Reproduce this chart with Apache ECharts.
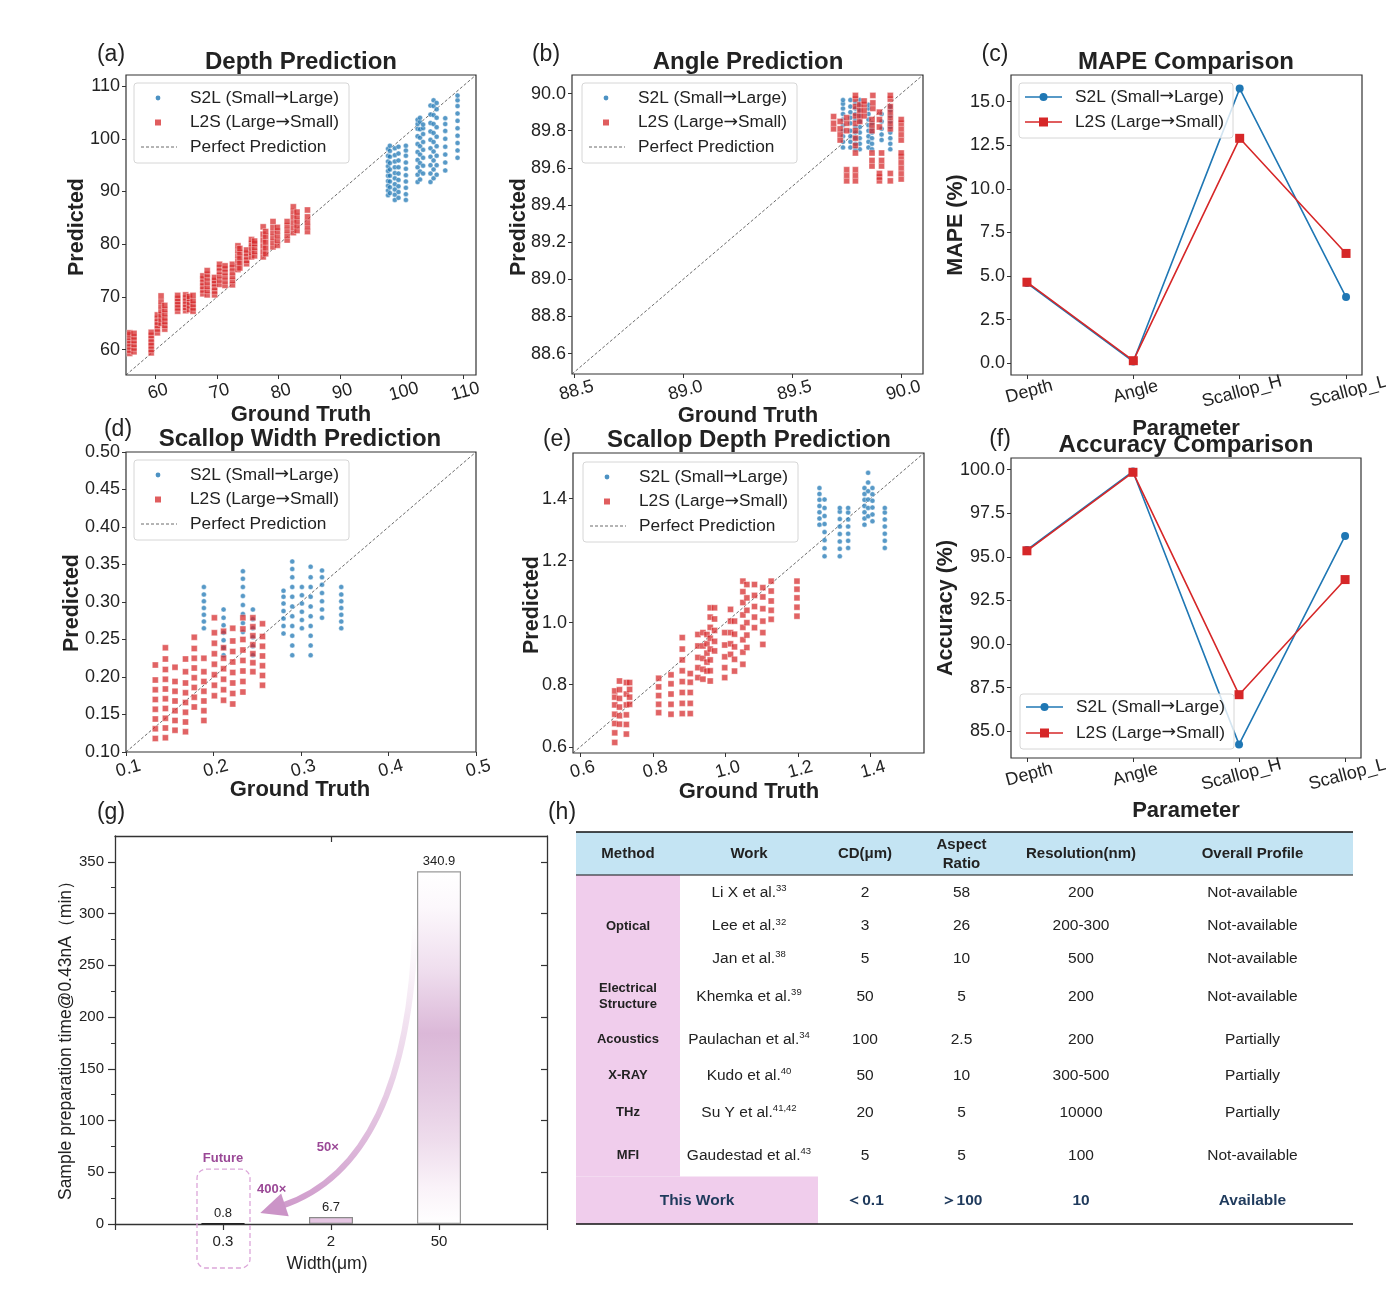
<html>
<head>
<script src="https://cdn.jsdelivr.net/npm/echarts@6.0.0/dist/echarts.min.js"></script>
<style>
  body { margin: 0; background: #fff; }
  #chart { width: 1386px; height: 1290px; }
</style>
</head>
<body>
<div id="chart"></div>
<script>
const FONT = '"Liberation Sans", Arial, sans-serif';
const BLUE = '#1f77b4', RED = '#d62728', INK = '#222';

// ---- data: each stripe is [ground truth, [predicted values...]] ----
const depthS2L = [
  [97.8, [89.3, 90.2, 91.1, 92.0, 93.0, 93.9, 94.8, 95.7, 96.8, 98.1]],
  [98.1, [89.7, 90.8, 91.9, 93.0, 94.2, 95.4, 96.6, 97.7, 98.7]],
  [98.9, [88.4, 89.4, 90.4, 91.4, 92.5, 93.5, 94.6, 95.7, 96.9, 98.2]],
  [99.5, [88.8, 89.9, 91.0, 92.2, 93.4, 94.6, 95.9, 97.2, 98.5]],
  [100.7, [88.4, 89.5, 90.7, 91.9, 93.1, 94.3, 95.5, 96.8, 97.8, 98.7]],
  [102.6, [91.8, 93.2, 94.6, 96.0, 97.5, 99.0, 100.5, 101.9, 102.8, 103.6]],
  [103.0, [92.3, 93.8, 95.4, 97.0, 98.6, 100.2, 101.8, 103.2, 104.0]],
  [103.5, [93.4, 94.9, 96.4, 97.9, 99.4, 100.9, 102.0, 102.7]],
  [104.7, [91.8, 93.4, 95.0, 96.6, 98.2, 99.8, 101.4, 103.0, 104.6, 106.3]],
  [105.2, [92.5, 94.2, 95.9, 97.6, 99.4, 101.1, 102.8, 104.5, 106.2, 107.3]],
  [105.7, [93.2, 95.0, 96.8, 98.6, 100.4, 102.2, 104.0, 105.6, 106.8]],
  [107.1, [94.0, 95.5, 97.0, 98.5, 100.0, 101.5, 102.8, 103.9]],
  [109.1, [96.4, 97.8, 99.2, 100.6, 102.0, 103.4, 104.8, 106.2, 107.3, 108.2]]
];
const depthL2S = [
  [55.8, [59.3, 59.9, 60.5, 61.1, 61.7, 62.3, 62.8, 63.2]],
  [56.5, [59.6, 60.3, 61.0, 61.7, 62.4, 63.1]],
  [59.3, [59.4, 60.0, 60.7, 61.3, 62.0, 62.7, 63.3]],
  [60.3, [63.2, 63.9, 64.6, 65.2, 65.9, 66.6]],
  [60.9, [65.0, 65.8, 66.6, 67.4, 68.3, 69.2, 70.2]],
  [61.5, [63.9, 64.6, 65.3, 66.0, 66.8, 67.6, 68.4]],
  [63.6, [67.3, 67.9, 68.5, 69.1, 69.7, 70.3]],
  [64.9, [67.4, 68.0, 68.6, 69.2, 69.8, 70.4]],
  [65.5, [67.6, 68.3, 69.0, 69.7, 70.1]],
  [66.1, [67.3, 67.9, 68.6, 69.3, 70.3]],
  [67.7, [70.6, 71.3, 72.0, 72.7, 73.4, 74.0]],
  [68.4, [70.4, 71.2, 72.0, 72.8, 73.6, 74.3, 75.0]],
  [69.6, [70.4, 71.1, 71.8, 72.5, 73.1, 73.7]],
  [70.4, [72.4, 73.2, 74.0, 74.8, 75.5, 76.2]],
  [71.3, [72.2, 73.0, 73.8, 74.6, 75.3, 75.9]],
  [72.5, [72.3, 73.1, 73.9, 74.7, 75.5, 76.2]],
  [73.4, [75.2, 76.1, 77.0, 77.9, 78.8, 79.7]],
  [73.7, [75.5, 76.5, 77.5, 78.4, 79.2]],
  [74.8, [76.3, 76.9, 77.6, 78.3, 78.9]],
  [75.6, [77.6, 78.4, 79.3, 80.1, 80.9]],
  [76.1, [77.8, 78.6, 79.4, 80.1, 80.6]],
  [77.5, [77.6, 78.6, 79.7, 80.8, 81.9, 83.3]],
  [77.9, [78.2, 79.3, 80.4, 81.5, 82.4]],
  [79.1, [79.5, 80.4, 81.3, 82.2, 83.2, 84.3]],
  [79.8, [79.8, 80.7, 81.6, 82.5, 83.2]],
  [81.4, [80.8, 81.7, 82.6, 83.5, 84.3]],
  [82.4, [82.2, 83.2, 84.2, 85.2, 86.2, 87.1]],
  [83.0, [82.6, 83.5, 84.4, 85.3, 86.1]],
  [84.7, [82.4, 83.3, 84.2, 85.2, 86.5]]
];
const angleS2L = [
  [89.733, [89.71, 89.74, 89.77, 89.80, 89.83, 89.86, 89.89, 89.92, 89.945, 89.965]],
  [89.767, [89.71, 89.74, 89.77, 89.80, 89.84, 89.87, 89.90, 89.93, 89.965]],
  [89.79, [89.70, 89.73, 89.76, 89.79, 89.82, 89.86, 89.89, 89.92, 89.95]],
  [89.81, [89.70, 89.73, 89.76, 89.79, 89.82, 89.85, 89.88, 89.91, 89.94, 89.965]],
  [89.85, [89.71, 89.74, 89.77, 89.80, 89.83, 89.86, 89.89, 89.92, 89.94]],
  [89.866, [89.70, 89.73, 89.76, 89.79, 89.81, 89.84]],
  [89.91, [89.75, 89.78, 89.81, 89.85, 89.89]],
  [89.95, [89.70, 89.73, 89.76, 89.79, 89.82, 89.85, 89.88, 89.91, 89.93]]
];
const angleL2S = [
  [89.69, [89.81, 89.84, 89.876]],
  [89.72, [89.75, 89.78, 89.81, 89.85]],
  [89.75, [89.53, 89.56, 89.59, 89.80, 89.84, 89.87]],
  [89.79, [89.53, 89.56, 89.59, 89.68, 89.72, 89.76, 89.80, 89.84, 89.88, 89.93, 89.97, 89.99]],
  [89.81, [89.85, 89.88, 89.91, 89.94]],
  [89.83, [89.88, 89.91, 89.94, 89.96]],
  [89.866, [89.61, 89.64, 89.68, 89.80, 89.83, 89.86]],
  [89.87, [89.92, 89.95, 89.99]],
  [89.90, [89.53, 89.55, 89.57, 89.82, 89.86, 89.90]],
  [89.91, [89.61, 89.64, 89.68]],
  [89.95, [89.53, 89.57, 89.81, 89.84, 89.87, 89.90, 89.93, 89.97, 89.99]],
  [90.0, [89.54, 89.57, 89.60, 89.63, 89.66, 89.68, 89.75, 89.78, 89.81, 89.84, 89.86]]
];
const widthS2L = [
  [0.189, [0.265, 0.274, 0.283, 0.292, 0.301, 0.310, 0.320]],
  [0.2115, [0.229, 0.239, 0.249, 0.259, 0.269, 0.279, 0.290]],
  [0.2336, [0.260, 0.272, 0.284, 0.296, 0.308, 0.320, 0.331, 0.341]],
  [0.245, [0.229, 0.241, 0.253, 0.265, 0.277, 0.290]],
  [0.28, [0.258, 0.268, 0.278, 0.288, 0.298, 0.307, 0.315]],
  [0.29, [0.229, 0.242, 0.255, 0.268, 0.281, 0.294, 0.307, 0.320, 0.333, 0.344, 0.354]],
  [0.301, [0.265, 0.276, 0.287, 0.298, 0.309, 0.320]],
  [0.311, [0.229, 0.242, 0.255, 0.268, 0.281, 0.294, 0.307, 0.320, 0.333, 0.347]],
  [0.324, [0.279, 0.290, 0.301, 0.312, 0.323, 0.333, 0.342]],
  [0.346, [0.265, 0.274, 0.283, 0.292, 0.301, 0.310, 0.320]]
];
const widthL2S = [
  [0.1335, [0.118, 0.131, 0.144, 0.157, 0.170, 0.183, 0.196, 0.216]],
  [0.145, [0.119, 0.132, 0.145, 0.158, 0.171, 0.184, 0.197, 0.210, 0.224, 0.239]],
  [0.156, [0.129, 0.142, 0.155, 0.168, 0.181, 0.194, 0.213]],
  [0.168, [0.127, 0.140, 0.153, 0.166, 0.179, 0.192, 0.207, 0.224]],
  [0.178, [0.160, 0.173, 0.186, 0.199, 0.212, 0.225, 0.238, 0.253]],
  [0.189, [0.142, 0.155, 0.168, 0.181, 0.194, 0.207, 0.225]],
  [0.201, [0.175, 0.189, 0.203, 0.217, 0.231, 0.245, 0.259, 0.279]],
  [0.2115, [0.169, 0.183, 0.197, 0.211, 0.225, 0.239, 0.261]],
  [0.222, [0.164, 0.178, 0.192, 0.206, 0.220, 0.234, 0.248, 0.265]],
  [0.2336, [0.180, 0.194, 0.208, 0.222, 0.236, 0.250, 0.264, 0.279]],
  [0.245, [0.207, 0.219, 0.231, 0.243, 0.255, 0.267, 0.279]],
  [0.256, [0.189, 0.202, 0.215, 0.228, 0.241, 0.254, 0.271]]
];
const sdepthS2L = [
  [1.259, [1.316, 1.336, 1.356, 1.376, 1.396, 1.415, 1.434]],
  [1.273, [1.214, 1.240, 1.266, 1.292, 1.318, 1.344, 1.370, 1.397]],
  [1.315, [1.214, 1.238, 1.262, 1.286, 1.310, 1.334, 1.358, 1.370]],
  [1.338, [1.241, 1.264, 1.287, 1.310, 1.333, 1.355, 1.370]],
  [1.383, [1.316, 1.336, 1.356, 1.376, 1.396, 1.415, 1.434]],
  [1.393, [1.343, 1.370, 1.397, 1.424, 1.452, 1.483]],
  [1.405, [1.327, 1.349, 1.371, 1.393, 1.414, 1.434]],
  [1.439, [1.241, 1.264, 1.287, 1.310, 1.333, 1.355, 1.370]]
];
const sdepthL2S = [
  [0.695, [0.614, 0.645, 0.675, 0.705, 0.735, 0.760, 0.780]],
  [0.708, [0.673, 0.700, 0.728, 0.756, 0.784, 0.812]],
  [0.727, [0.641, 0.672, 0.703, 0.735, 0.770, 0.807]],
  [0.736, [0.737, 0.760, 0.785, 0.807]],
  [0.816, [0.710, 0.737, 0.765, 0.793, 0.821]],
  [0.85, [0.705, 0.737, 0.770, 0.803, 0.832]],
  [0.881, [0.707, 0.740, 0.775, 0.810, 0.845, 0.880, 0.915, 0.952]],
  [0.903, [0.707, 0.740, 0.775, 0.808, 0.836]],
  [0.924, [0.823, 0.855, 0.888, 0.925, 0.962]],
  [0.938, [0.818, 0.850, 0.885, 0.925, 0.968]],
  [0.949, [0.844, 0.873, 0.902, 0.932, 0.962]],
  [0.958, [0.812, 0.845, 0.880, 0.915, 0.950, 0.985, 1.018, 1.048]],
  [0.97, [0.909, 0.940, 0.975, 1.012, 1.048]],
  [0.998, [0.823, 0.855, 0.890, 0.928, 0.968]],
  [1.014, [0.898, 0.932, 0.968, 1.005, 1.043]],
  [1.025, [0.844, 0.882, 0.922, 0.963, 1.005]],
  [1.048, [0.866, 0.905, 0.945, 0.985, 1.025, 1.065, 1.100, 1.134]],
  [1.059, [0.920, 0.960, 1.000, 1.040, 1.080, 1.123]],
  [1.08, [0.984, 1.018, 1.052, 1.088, 1.123]],
  [1.103, [0.930, 0.968, 1.005, 1.045, 1.083, 1.113]],
  [1.126, [1.011, 1.040, 1.070, 1.102, 1.134]],
  [1.197, [1.021, 1.050, 1.080, 1.108, 1.134]]
];

const paramNames = ['Depth', 'Angle', 'Scallop_H', 'Scallop_L'];
const mapeS2L = [4.6, 0.1, 15.75, 3.8];
const mapeL2S = [4.65, 0.15, 12.9, 6.3];
const accS2L = [95.4, 99.9, 84.25, 96.2];
const accL2S = [95.35, 99.85, 87.1, 93.7];

const widthCats = ['0.3', '2', '50'];
const prepTime = [0.8, 6.7, 340.9];

// table (h)
const tableHeader = ['Method', 'Work', 'CD(μm)', 'Aspect\nRatio', 'Resolution(nm)', 'Overall Profile'];
const works = ['Li X et al.', 'Lee et al.', 'Jan et al.', 'Khemka et al.', 'Paulachan et al.', 'Kudo et al.', 'Su Y et al.', 'Gaudestad et al.'];
const workRefs = ['33', '32', '38', '39', '34', '40', '41,42', '43'];
const cdValues = ['2', '3', '5', '50', '100', '50', '20', '5'];
const aspectValues = ['58', '26', '10', '5', '2.5', '10', '5', '5'];
const resolutionValues = ['200', '200-300', '500', '200', '200', '300-500', '10000', '100'];
const profileValues = ['Not-available', 'Not-available', 'Not-available', 'Not-available', 'Partially', 'Partially', 'Partially', 'Not-available'];
const methodGroups = ['Optical', 'Electrical\nStructure', 'Acoustics', 'X-RAY', 'THz', 'MFI'];
const thisWorkRow = ['This Work', '＜0.1', '＞100', '10', 'Available'];

// axis ranges (matplotlib equal limits)
const scatterRanges = [[55.2, 112.1], [88.49, 90.1], null, [0.1, 0.5], [0.58, 1.547]];
const scatterTicks = [
  [60, 70, 80, 90, 100, 110],
  [88.5, 89.0, 89.5, 90.0],
  null,
  [0.1, 0.2, 0.3, 0.4, 0.5],
  [0.6, 0.8, 1.0, 1.2, 1.4]
];
const scatterYTicks = [
  [60, 70, 80, 90, 100, 110],
  [88.6, 88.8, 89.0, 89.2, 89.4, 89.6, 89.8, 90.0],
  null,
  [0.10, 0.15, 0.20, 0.25, 0.30, 0.35, 0.40, 0.45, 0.50],
  [0.6, 0.8, 1.0, 1.2, 1.4]
];
const xDigits = [0, 1, null, 1, 1];
const yDigits = [0, 1, null, 2, 1];

const chart = echarts.init(document.getElementById('chart'));

const grids = [
  { left: 126, top: 75, width: 350, height: 300 },
  { left: 572, top: 75, width: 351, height: 299 },
  { left: 1011, top: 75, width: 351, height: 300 },
  { left: 126, top: 452, width: 350, height: 300 },
  { left: 573, top: 453, width: 351, height: 300 },
  { left: 1011, top: 458, width: 350, height: 300 },
  { left: 115, top: 836, width: 432, height: 388 }
].map((g, i) => Object.assign({
  show: i < 6, borderColor: '#333', borderWidth: 1.2, backgroundColor: 'transparent',
  containLabel: false, outerBoundsMode: 'none'
}, g));

const expand = stripes => stripes.flatMap(([x, ys]) => ys.map(y => [x, y]));

function valAxis(gi, min, max, ticks, fmt, rotate) {
  return {
    type: 'value', gridIndex: gi, min, max,
    splitLine: { show: false },
    axisLine: { show: false, onZero: false },
    axisTick: { show: true, customValues: ticks, length: 4, lineStyle: { color: '#333', width: 1 } },
    axisLabel: Object.assign({
      customValues: ticks, formatter: fmt, fontSize: 18, color: INK, fontFamily: FONT,
      margin: rotate ? 8 : 6
    }, rotate ? { rotate, align: 'center', verticalAlign: 'top' } : {})
  };
}

const xAxes = [], yAxes = [], series = [];
const scatterSets = [[depthS2L, depthL2S], [angleS2L, angleL2S], null, [widthS2L, widthL2S], [sdepthS2L, sdepthL2S]];

[0, 1, 3, 4].forEach(k => {
  const [lo, hi] = scatterRanges[k];
  xAxes[k] = valAxis(k, lo, hi, scatterTicks[k], v => v.toFixed(xDigits[k]), 15);
  yAxes[k] = valAxis(k, lo, hi, scatterYTicks[k], v => v.toFixed(yDigits[k]));
  const [s2l, l2s] = scatterSets[k];
  series.push({
    type: 'line', xAxisIndex: k, yAxisIndex: k, data: [[lo, lo], [hi, hi]], symbol: 'none',
    lineStyle: { color: '#444', width: 0.8, type: [3, 2] }, z: 1, silent: true
  });
  series.push({
    type: 'scatter', name: 'S2L (Small→Large)', xAxisIndex: k, yAxisIndex: k, data: expand(s2l),
    symbol: 'circle', symbolSize: 5,
    itemStyle: { color: BLUE, opacity: 0.75, borderColor: '#fff', borderWidth: 0.5 }, z: 2
  });
  series.push({
    type: 'scatter', name: 'L2S (Large→Small)', xAxisIndex: k, yAxisIndex: k, data: expand(l2s),
    symbol: 'rect', symbolSize: 6,
    itemStyle: { color: RED, opacity: 0.72, borderColor: '#fff', borderWidth: 0.5 }, z: 3
  });
});

// (c) MAPE and (f) accuracy
[[2, mapeS2L, mapeL2S, -0.67, 16.53, [0, 2.5, 5, 7.5, 10, 12.5, 15]],
 [5, accS2L, accL2S, 83.47, 100.67, [85, 87.5, 90, 92.5, 95, 97.5, 100]]].forEach(([k, s2l, l2s, lo, hi, ticks]) => {
  xAxes[k] = valAxis(k, -0.15, 3.15, [0, 1, 2, 3], v => paramNames[Math.round(v)], 15);
  yAxes[k] = valAxis(k, lo, hi, ticks, v => v.toFixed(1));
  series.push({
    type: 'line', name: 'S2L (Small→Large)', xAxisIndex: k, yAxisIndex: k,
    data: s2l.map((v, i) => [i, v]), symbol: 'circle', symbolSize: 8,
    lineStyle: { color: BLUE, width: 1.6 }, itemStyle: { color: BLUE }, z: 2
  });
  series.push({
    type: 'line', name: 'L2S (Large→Small)', xAxisIndex: k, yAxisIndex: k,
    data: l2s.map((v, i) => [i, v]), symbol: 'rect', symbolSize: 9,
    lineStyle: { color: RED, width: 1.6 }, itemStyle: { color: RED }, z: 3
  });
});

// (g) bar chart
const axisLn = { show: true, onZero: false, lineStyle: { color: '#333', width: 1.3 } };
xAxes[6] = {
  type: 'value', gridIndex: 6, min: -1, max: 3, position: 'bottom', splitLine: { show: false },
  axisLine: axisLn,
  axisTick: { customValues: [-1, 0, 1, 2, 3], length: 6, lineStyle: { color: '#333', width: 1.2 } },
  axisLabel: { customValues: [0, 1, 2], formatter: v => widthCats[Math.round(v)], fontSize: 15, color: INK, fontFamily: FONT, margin: 10 }
};
xAxes[7] = {
  type: 'value', gridIndex: 6, min: -1, max: 3, position: 'top', splitLine: { show: false },
  axisLine: axisLn,
  axisTick: { inside: true, customValues: [1], length: 6, lineStyle: { color: '#333', width: 1.2 } },
  axisLabel: { show: false }
};
const majorTicks = [0, 50, 100, 150, 200, 250, 300, 350];
yAxes[6] = {
  type: 'value', gridIndex: 6, min: 0, max: 375, position: 'left', splitLine: { show: false },
  axisLine: axisLn,
  axisTick: { customValues: majorTicks, length: 7, lineStyle: { color: '#333', width: 1.2 } },
  axisLabel: { customValues: majorTicks, fontSize: 15, color: INK, fontFamily: FONT, margin: 11 }
};
yAxes[7] = {
  type: 'value', gridIndex: 6, min: 0, max: 375, position: 'right', splitLine: { show: false },
  axisLine: axisLn,
  axisTick: { inside: true, customValues: majorTicks.slice(1), length: 6, lineStyle: { color: '#333', width: 1.2 } },
  axisLabel: { show: false }
};
yAxes[8] = {
  type: 'value', gridIndex: 6, min: 0, max: 375, position: 'left', splitLine: { show: false },
  axisLine: { show: false, onZero: false },
  axisTick: { customValues: [25, 75, 125, 175, 225, 275, 325], length: 4, lineStyle: { color: '#333', width: 1 } },
  axisLabel: { show: false }
};

const barStyles = [
  { color: '#333', borderColor: '#222', borderWidth: 1.2 },
  { color: '#e6c6e3', borderColor: '#8a8a8a', borderWidth: 1.2 },
  {
    color: new echarts.graphic.LinearGradient(0, 0, 0, 1, [
      { offset: 0, color: '#ffffff' }, { offset: 0.1, color: '#fcf8fc' },
      { offset: 0.28, color: '#efdeee' }, { offset: 0.46, color: '#dbb8d8' },
      { offset: 0.62, color: '#e4cae2' }, { offset: 0.76, color: '#eedcec' },
      { offset: 0.9, color: '#faf3f9' }, { offset: 1, color: '#ffffff' }
    ]),
    borderColor: '#9a9a9a', borderWidth: 1.2
  }
];
series.push({
  type: 'bar', xAxisIndex: 6, yAxisIndex: 6, barWidth: 44,
  data: prepTime.map((v, i) => ({ value: [i, v], itemStyle: barStyles[i] })),
  label: {
    show: true, position: 'top', distance: 3, fontSize: 13, color: INK, fontFamily: FONT,
    formatter: p => String(p.value[1])
  },
  z: 2
});

chart.setOption({
  animation: false,
  backgroundColor: '#fff',
  grid: grids,
  xAxis: xAxes,
  yAxis: yAxes,
  series
});

// ---------- text, legends, table, annotations ----------
const G = [];
function text(x, y, s, size, opts) {
  opts = opts || {};
  G.push({
    type: 'text', x, y, rotation: opts.rotation || 0, z: 100,
    style: {
      text: s, fontSize: size, fontFamily: FONT, fontWeight: opts.bold ? 'bold' : 'normal',
      fill: opts.color || INK, align: opts.align || 'center', verticalAlign: 'middle',
      lineHeight: opts.lineHeight, rich: opts.rich
    }
  });
}

[['Depth Prediction', 301, 62], ['Angle Prediction', 748, 62], ['MAPE Comparison', 1186, 62],
 ['Scallop Width Prediction', 300, 439], ['Scallop Depth Prediction', 749, 440], ['Accuracy Comparison', 1186, 445]]
  .forEach(([s, x, y]) => text(x, y, s, 24, { bold: true }));

[['(a)', 111, 55], ['(b)', 546, 55], ['(c)', 995, 55], ['(d)', 118, 430], ['(e)', 557, 440],
 ['(f)', 1000, 440], ['(g)', 111, 813], ['(h)', 562, 813]]
  .forEach(([s, x, y]) => text(x, y, s, 23));

const R90 = Math.PI / 2;
[['Predicted', 77, 227], ['Predicted', 519, 227], ['MAPE (%)', 956, 225],
 ['Predicted', 72, 603], ['Predicted', 532, 605], ['Accuracy (%)', 946, 608]]
  .forEach(([s, x, y]) => text(x, y, s, 21.5, { bold: true, rotation: R90 }));
[['Ground Truth', 301, 415], ['Ground Truth', 748, 416], ['Parameter', 1186, 429],
 ['Ground Truth', 300, 790], ['Ground Truth', 749, 792], ['Parameter', 1186, 811]]
  .forEach(([s, x, y]) => text(x, y, s, 22, { bold: true }));

// legend labels: arrow drawn in a font with a long arrow glyph
const LSZ = 17.3;
const legendRich = {
  t: { fontSize: LSZ, fontFamily: FONT, fill: INK },
  r: { fontSize: LSZ, fontFamily: '"DejaVu Sans"', fill: INK }
};
const LBL = ['{t|S2L (Small}{r|→}{t|Large)}', '{t|L2S (Large}{r|→}{t|Small)}', '{t|Perfect Prediction}'];
function legendFrame(x, y, w, h) {
  G.push({
    type: 'rect', shape: { x, y, width: w, height: h, r: 3 }, z: 90,
    style: { fill: 'rgba(255,255,255,0.8)', stroke: '#d6d6d6', lineWidth: 1 }
  });
}
function scatterLegend(x, y) {
  legendFrame(x, y, 215, 80);
  const rows = [15, 39.5, 64];
  G.push({ type: 'circle', shape: { cx: x + 24, cy: y + rows[0], r: 2.4 }, z: 95, style: { fill: BLUE, opacity: 0.8 } });
  G.push({ type: 'rect', shape: { x: x + 21, y: y + rows[1] - 3, width: 6, height: 6 }, z: 95, style: { fill: RED, opacity: 0.75 } });
  G.push({ type: 'line', shape: { x1: x + 7, y1: y + rows[2], x2: x + 43, y2: y + rows[2] }, z: 95,
    style: { stroke: '#444', lineWidth: 0.8, lineDash: [3, 2] } });
  LBL.forEach((s, i) => text(x + 56, y + rows[i], s, LSZ, { align: 'left', rich: legendRich }));
}
function lineLegend(x, y, rows) {
  legendFrame(x, y, 214, 55);
  G.push({ type: 'line', shape: { x1: x + 6, y1: y + rows[0], x2: x + 43, y2: y + rows[0] }, z: 95, style: { stroke: BLUE, lineWidth: 1.6 } });
  G.push({ type: 'circle', shape: { cx: x + 24.5, cy: y + rows[0], r: 4 }, z: 95, style: { fill: BLUE } });
  G.push({ type: 'line', shape: { x1: x + 6, y1: y + rows[1], x2: x + 43, y2: y + rows[1] }, z: 95, style: { stroke: RED, lineWidth: 1.6 } });
  G.push({ type: 'rect', shape: { x: x + 20, y: y + rows[1] - 4.5, width: 9, height: 9 }, z: 95, style: { fill: RED } });
  text(x + 56, y + rows[0], LBL[0], LSZ, { align: 'left', rich: legendRich });
  text(x + 56, y + rows[1], LBL[1], LSZ, { align: 'left', rich: legendRich });
}
scatterLegend(134, 83);
scatterLegend(582, 83);
scatterLegend(134, 460);
scatterLegend(583, 462);
lineLegend(1019, 83, [14, 39]);
lineLegend(1020, 694, [13, 39]);

// (g) axis titles
text(66, 1036, 'Sample preparation time@0.43nA（min）', 17.5, { rotation: R90 });
text(327, 1264, 'Width(μm)', 17.5);

// (g) annotations anchored in data space
const toPx = p => chart.convertToPixel({ gridIndex: 6 }, p);
const aStart = toPx([1.78, 289]), aCtrl = toPx([1.715, 58]), aTip = toPx([0.345, 10.6]);
const dx = aTip[0] - aCtrl[0], dy = aTip[1] - aCtrl[1], dl = Math.hypot(dx, dy);
const ux = dx / dl, uy = dy / dl, nx = -uy, ny = ux;
const headLen = 26, headHalf = 12;
const base = [aTip[0] - ux * headLen, aTip[1] - uy * headLen];
const shaftEnd = [base[0] + ux * 4, base[1] + uy * 4];
G.push({
  type: 'bezierCurve', z: 80,
  shape: { x1: aStart[0], y1: aStart[1], cpx1: aCtrl[0], cpy1: aCtrl[1], x2: shaftEnd[0], y2: shaftEnd[1] },
  style: {
    fill: 'none', lineWidth: 6,
    stroke: { type: 'linear', x: 0, y: 0, x2: 0, y2: 1, colorStops: [
      { offset: 0, color: 'rgba(240,222,238,0)' }, { offset: 0.35, color: 'rgba(232,206,230,0.6)' },
      { offset: 1, color: '#cf9bcb' }] }
  }
});
G.push({
  type: 'polygon', z: 81,
  shape: { points: [aTip, [base[0] + nx * headHalf, base[1] + ny * headHalf], [base[0] - nx * headHalf, base[1] - ny * headHalf]] },
  style: { fill: '#cb94c7' }
});
const zero = toPx([0, 0]), futTop = toPx([0, 53]);
G.push({
  type: 'rect', z: 85,
  shape: { x: zero[0] - 26, y: futTop[1], width: 53, height: zero[1] + 44 - futTop[1], r: 9 },
  style: { fill: 'none', stroke: '#dca6d9', lineWidth: 1.3, lineDash: [5, 3] }
});
const PURPLE = '#9a4896';
[['Future', [0, 63.8]], ['400×', [0.45, 33.8]], ['50×', [0.97, 74.4]]].forEach(([s, p]) => {
  const q = toPx(p);
  text(q[0], q[1], s, 13, { bold: true, color: PURPLE });
});

// (h) table
const tL = 576, tR = 1353, tTop = 832, tHead = 875, tPink = 1176.5, tBot = 1224;
G.push({ type: 'rect', z: 60, shape: { x: tL, y: tTop, width: tR - tL, height: tHead - tTop }, style: { fill: '#c4e4f3' } });
G.push({ type: 'rect', z: 60, shape: { x: tL, y: tHead, width: 104, height: tPink - tHead }, style: { fill: '#f0cdec' } });
G.push({ type: 'rect', z: 60, shape: { x: tL, y: tPink, width: 242, height: tBot - tPink }, style: { fill: '#f0cdec' } });
[[tTop, 1.4], [tHead, 1.2], [tBot, 1.4]].forEach(([y, w]) => G.push({
  type: 'line', z: 70, shape: { x1: tL, y1: y, x2: tR, y2: y }, style: { stroke: '#111', lineWidth: w }
}));
const colX = [628, 749, 865, 961.5, 1081, 1252.5];
const rowY = [892.7, 926, 958.3, 996.7, 1039.3, 1075.7, 1112.3, 1155.7];
tableHeader.forEach((s, i) => text(colX[i], 854, s, 15, { bold: true, lineHeight: 19 }));
const groupY = [926, 996, 1039.3, 1075.7, 1112.3, 1155.7];
methodGroups.forEach((s, i) => text(colX[0], groupY[i], s, 13, { bold: true, lineHeight: 16 }));
const richCell = {
  a: { fontSize: 15.5, fontFamily: FONT, fill: INK, lineHeight: 18 },
  s: { fontSize: 9.5, fontFamily: FONT, fill: INK, lineHeight: 18, verticalAlign: 'top' }
};
works.forEach((s, i) => {
  text(colX[1], rowY[i], '{a|' + s + '}{s|' + workRefs[i] + '}', 15.5, { rich: richCell });
  text(colX[2], rowY[i], cdValues[i], 15.5);
  text(colX[3], rowY[i], aspectValues[i], 15.5);
  text(colX[4], rowY[i], resolutionValues[i], 15.5);
  text(colX[5], rowY[i], profileValues[i], 15.5);
});
const NAVY = '#1f3a5c';
const twX = [697, colX[2], colX[3], colX[4], colX[5]];
thisWorkRow.forEach((s, i) => text(twX[i], 1201, s, 15.5, { bold: true, color: NAVY }));

chart.setOption({ graphic: { elements: G } });
</script>
</body>
</html>
